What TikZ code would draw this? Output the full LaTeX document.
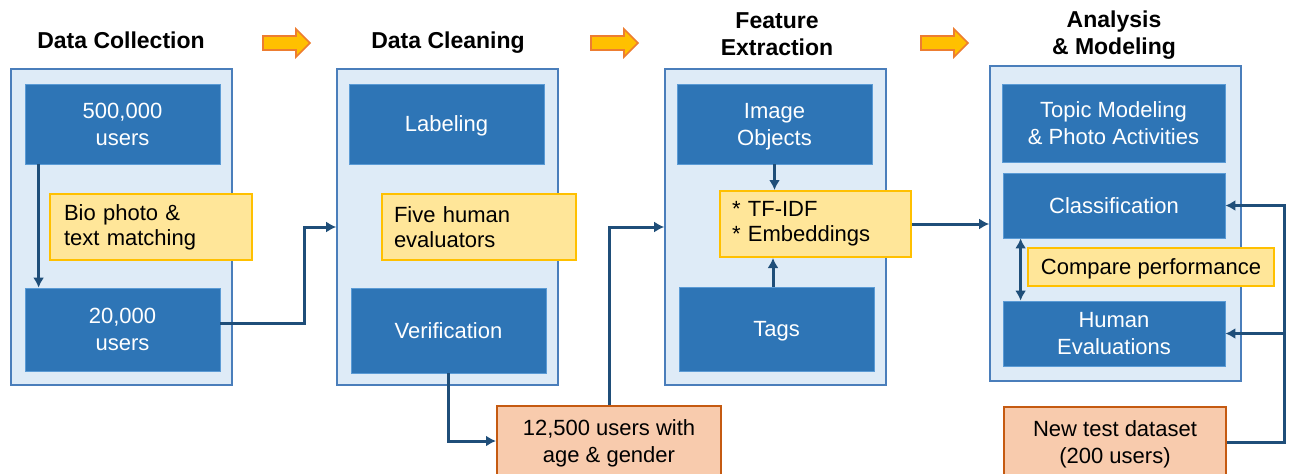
\documentclass[tikz,border=0pt]{standalone}
\usepackage{fontspec}
\setmainfont{Liberation Sans}
\usetikzlibrary{arrows.meta,calc}
\definecolor{boxblue}{HTML}{2E75B6}
\definecolor{boxedge}{HTML}{5B9BD5}
\definecolor{outerfill}{HTML}{DEEBF7}
\definecolor{outerline}{HTML}{4A7EBB}
\definecolor{noteyellow}{HTML}{FFE699}
\definecolor{notegold}{HTML}{FFC000}
\definecolor{orangefill}{HTML}{F8CBAD}
\definecolor{orangeline}{HTML}{C55A11}
\definecolor{connblue}{HTML}{1F4E79}
\definecolor{arrowfill}{HTML}{FFC000}
\definecolor{arrowline}{HTML}{ED7D31}
\newcommand\myBody{\fontsize{11}{13.5}\selectfont}
\newcommand\myNote{\fontsize{11}{12.5}\selectfont}
\newcommand\myTitle{\fontsize{11.5}{13.5}\selectfont\bfseries}
\tikzset{
  outerbox/.style={draw=outerline, fill=outerfill, line width=0.8pt, inner sep=0pt},
  bluebox/.style={fill=boxblue, draw=boxedge, line width=0.4pt, text=white, align=center, inner sep=0pt, text depth=0pt, font=\myBody},
  notebox/.style={fill=noteyellow, draw=notegold, line width=1pt, align=left, inner ysep=0pt, font=\myNote},
  databox/.style={fill=orangefill, draw=orangeline, line width=1pt, align=center, inner sep=0pt, text depth=0pt, font=\myBody},
  titletext/.style={font=\myTitle, align=center, inner sep=0pt, text depth=0pt},
  conn/.style={draw=connblue, line width=1.5pt, -{Latex[length=5pt,width=5.5pt]}},
  bigarrow/.style={fill=arrowfill, draw=arrowline, line width=0.8pt, line join=miter}
}
\newcommand\orangearrow[1]{%
  \draw[bigarrow] (#1,36) -- ++(33,0) -- ++(0,-7) -- ++(14,14) -- ++(-14,14) -- ++(0,-7) -- ++(-33,0) -- cycle;}
\begin{document}
\begin{tikzpicture}[x=0.5pt,y=-0.5pt]
\useasboundingbox (0,0) rectangle (1290,473);

% titles
\node[titletext] (t1) at (121,40.5) {Data Collection};
\node[titletext] (t2) at (448,40.5) {Data Cleaning};
\node[titletext] (t3) at (777,34) {Feature\\Extraction};
\node[titletext] (t4) at (1114,33) {Analysis\\\& Modeling};

% stage arrows
\orangearrow{263}
\orangearrow{591}
\orangearrow{921}

% column 1
\node[outerbox, minimum width=110.5pt, minimum height=158pt] (outer1) at (121.5,227) {};
\node[bluebox, minimum width=97.5pt, minimum height=40pt] (u500) at (122.5,124) {500,000\\users};
\node[bluebox, minimum width=97.5pt, minimum height=41.5pt] (u20) at (122.5,329.5) {20,000\\users};
\node[notebox, text width=87pt, inner xsep=7pt, minimum height=33pt] (bio) at (151,227) {Bio photo \&\\text matching};

% column 2
\node[outerbox, minimum width=110.5pt, minimum height=158pt] (outer2) at (447.5,227) {};
\node[bluebox, minimum width=97.5pt, minimum height=40pt] (label) at (446.5,124) {Labeling};
\node[notebox, text width=85pt, inner xsep=6pt, minimum height=33pt] (five) at (479,227) {Five human\\evaluators};
\node[bluebox, minimum width=97.5pt, minimum height=42.5pt] (verif) at (448.5,330.5) {Verification};
\node[databox, minimum width=112pt, minimum height=35pt] (ds1) at (609,441) {12,500 users with\\age \& gender};

% column 3
\node[outerbox, minimum width=110.5pt, minimum height=158pt] (outer3) at (775.5,227) {};
\node[bluebox, minimum width=97.5pt, minimum height=40pt] (img) at (774.5,124) {Image\\Objects};
\node[notebox, text width=83.5pt, inner xsep=6pt, minimum height=33pt] (feat) at (815.5,224) {* TF-IDF\\{}* Embeddings};
\node[bluebox, minimum width=97.5pt, minimum height=42pt] (tags) at (776.5,329) {Tags};

% column 4
\node[outerbox, minimum width=125.5pt, minimum height=157.5pt] (outer4) at (1115.5,223.5) {};
\node[bluebox, minimum width=111.5pt, minimum height=39pt] (topic) at (1113.5,123) {Topic Modeling\\\& Photo Activities};
\node[bluebox, minimum width=111pt, minimum height=32.5pt] (classif) at (1114,205.5) {Classification};
\node[notebox, align=center, inner sep=0pt, text depth=0pt, minimum width=123pt, minimum height=19pt] (cmp) at (1151,267) {Compare performance};
\node[bluebox, minimum width=111pt, minimum height=32.5pt] (human) at (1114,333.5) {Human\\Evaluations};
\node[databox, minimum width=111pt, minimum height=35pt] (ds2) at (1115,442) {New test dataset\\(200 users)};
\coordinate (bus) at (1284,442);

% connectors
\draw[conn] ([xshift=7pt]u500.south west) -- ([xshift=7pt]u20.north west);
\draw[conn] ([yshift=3.25pt]u20.east) -- ++(84,0) |- (outer2.west);
\draw[conn] (verif.south) |- (ds1.west);
\draw[conn] (ds1.north) |- (outer3.west);
\draw[conn] (img.south) -- (img.south |- feat.north);
\draw[conn] ([xshift=-1.75pt]tags.north) -- ([xshift=-1.75pt]tags.north |- feat.south);
\draw[conn] (feat.east) -- (outer4.west |- feat.east);
\draw[conn, {Latex[length=5pt,width=5.5pt]}-{Latex[length=5pt,width=5.5pt]}] ([xshift=9pt]classif.south west) -- ([xshift=9pt]human.north west);
\draw[conn] (ds2.east) -- (bus) |- (classif.east);
\draw[conn] (human.east -| bus) -- (human.east);
\end{tikzpicture}
\end{document}
